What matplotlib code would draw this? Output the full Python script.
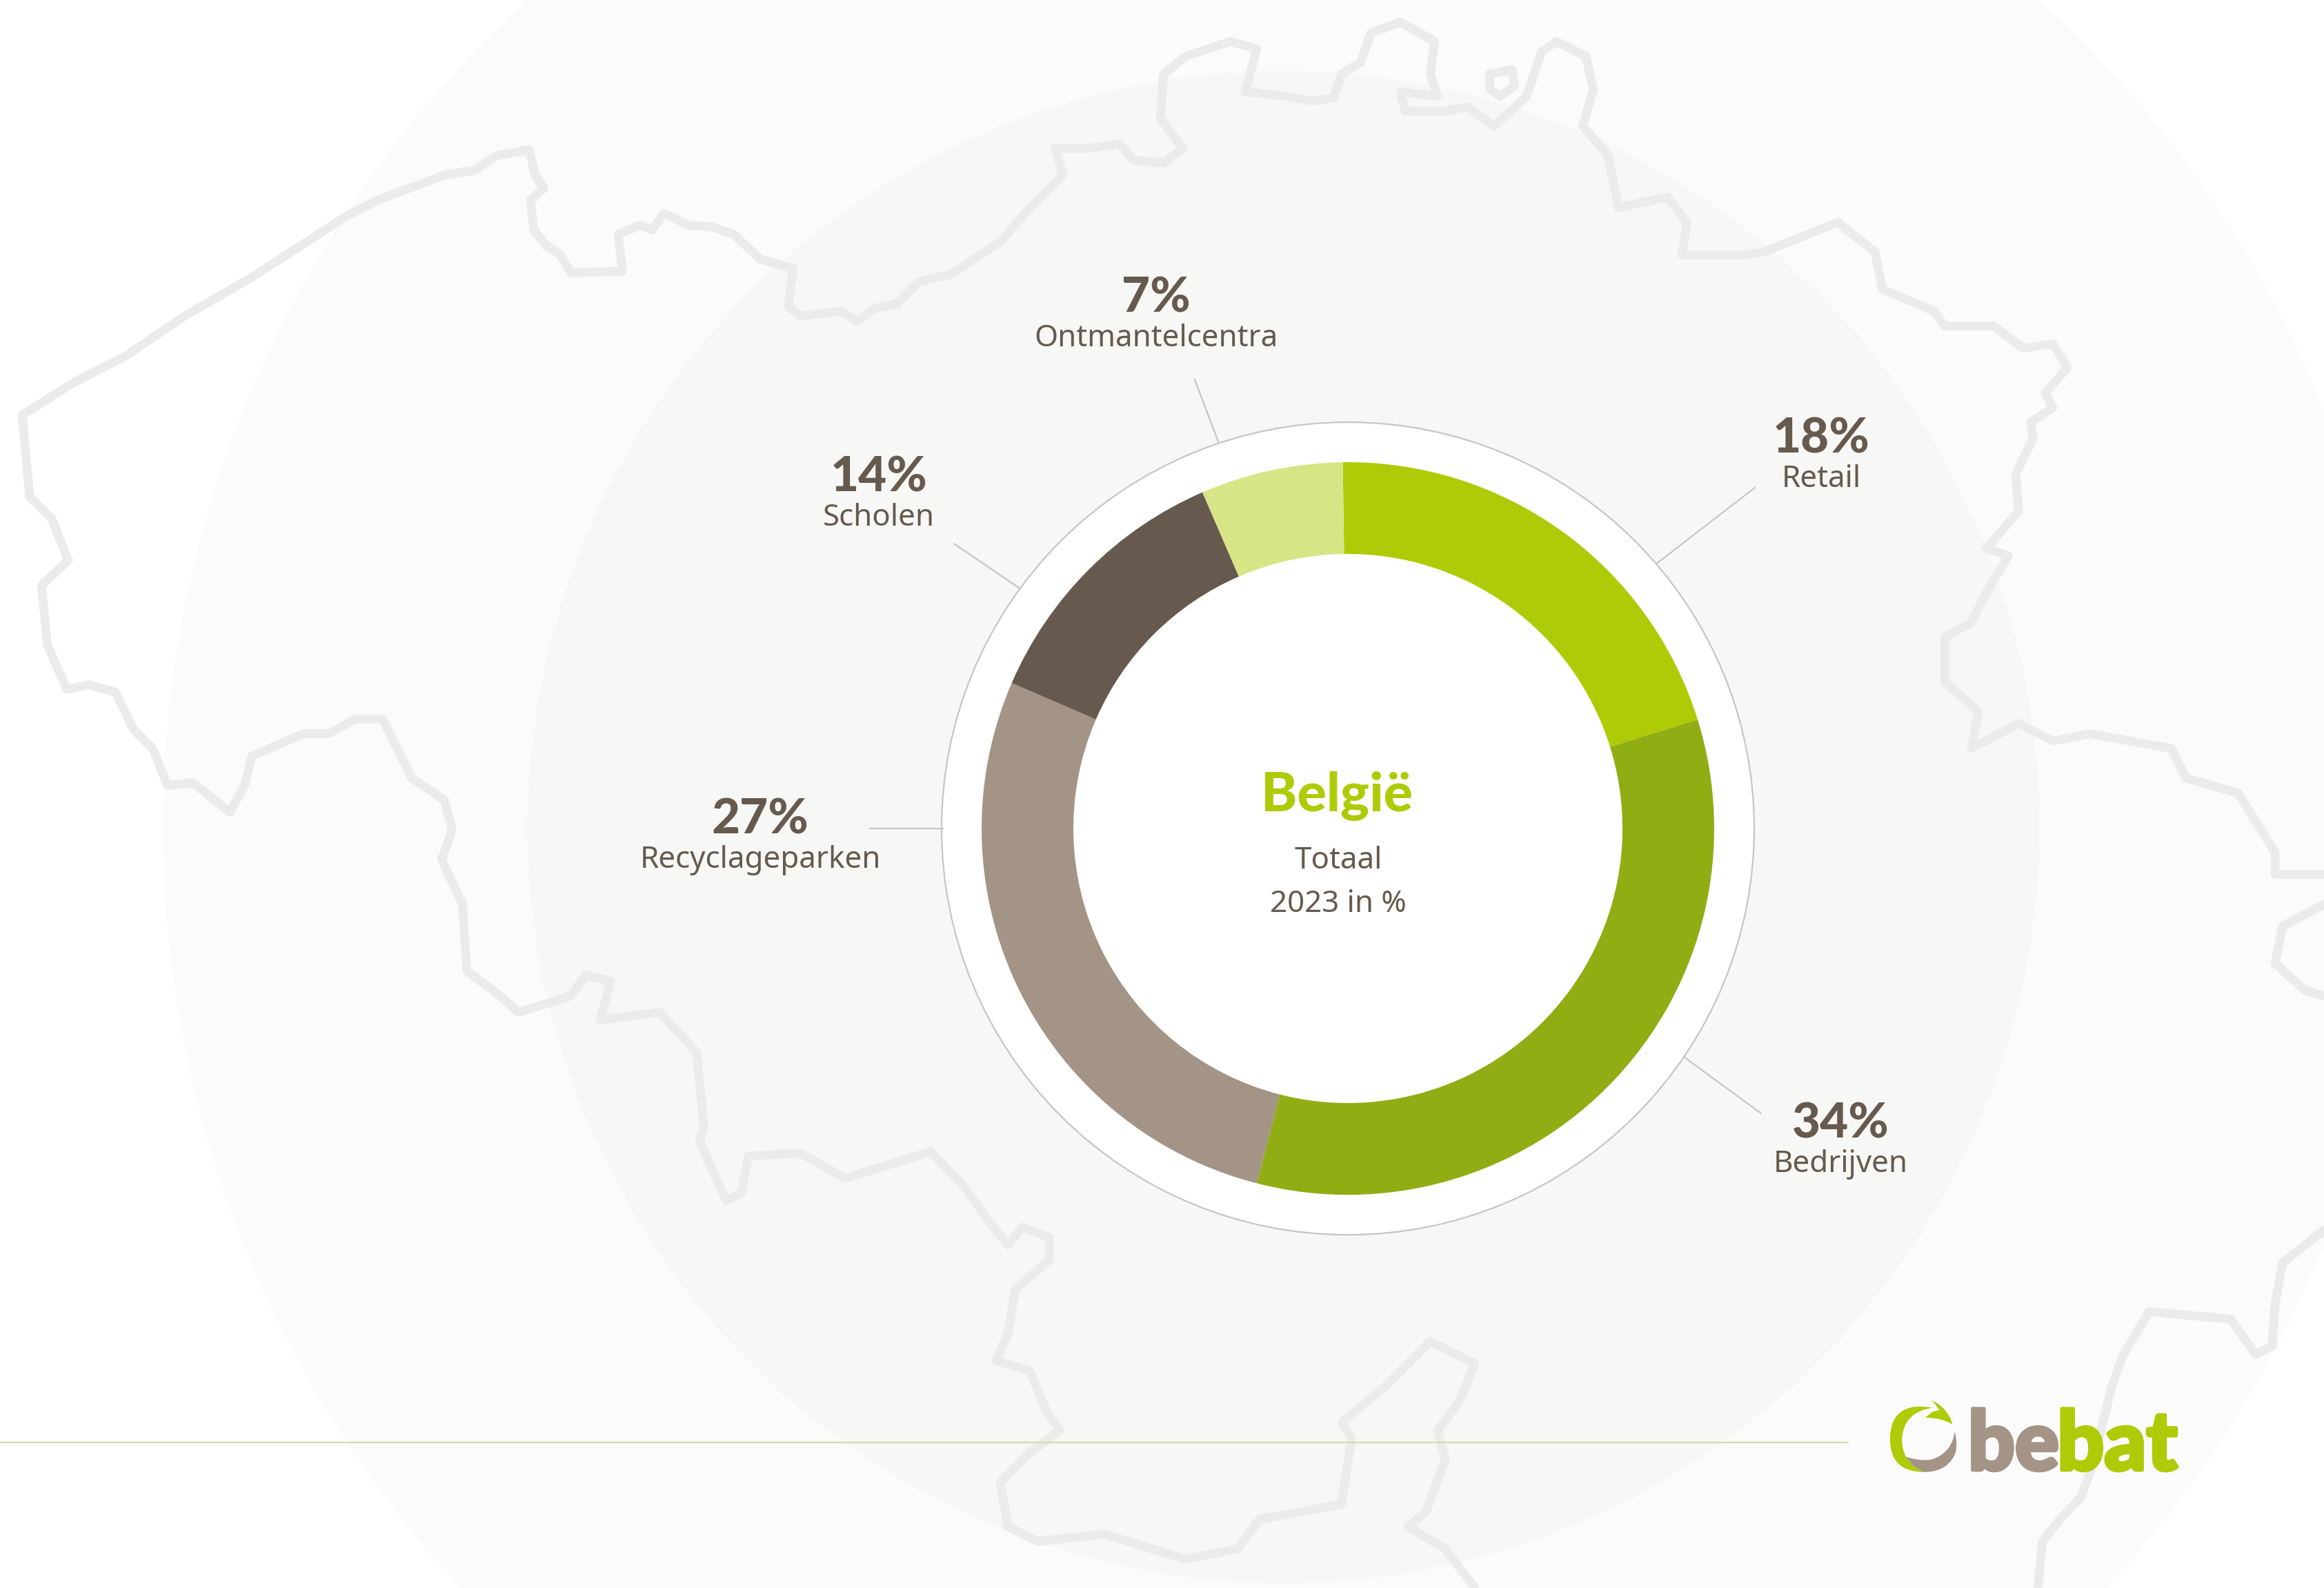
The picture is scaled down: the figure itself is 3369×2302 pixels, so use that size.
import numpy as np
from matplotlib import pyplot as plt
from matplotlib import patheffects
from matplotlib.patches import Circle, PathPatch
from matplotlib.path import Path

# image is 3369x2302, the map was traced on the 1568 wide version
W, H = 3369, 2302
S = W / 1568
DPI = 200

# slice sizes as drawn (degrees of the arc), they differ a bit from the printed labels
slice_names = ['Retail', 'Bedrijven', 'Recyclageparken', 'Scholen', 'Ontmantelcentra']
slice_sizes = [73.5, 121.7, 99.0, 43.2, 22.6]
slice_labels = ['18%', '34%', '27%', '14%', '7%']
slice_colors = ['#afcb08', '#90ad14', '#a39486', '#665a4e', '#d8e586']

title = 'België'
subtitle = ['Totaal', '2023 in %']

map_north = [(15, 280), (50, 258), (85, 240), (125, 213), (170, 187), (235, 145), (255, 135), (300, 118), (320, 115),
             (335, 105), (357, 101), (361, 118), (367, 127), (358, 135), (360, 155), (368, 165), (378, 172),
             (385, 184), (420, 183), (417, 158), (432, 152), (440, 155), (448, 144), (465, 152), (480, 153),
             (495, 158), (513, 175), (535, 181), (532, 207), (540, 213), (568, 210), (578, 217), (590, 208),
             (605, 205), (620, 190), (642, 185), (675, 163), (695, 140), (717, 118), (712, 100),
             (735, 100), (755, 97), (765, 108), (785, 110), (798, 100), (783, 80), (785, 50), (800, 38),
             (830, 28), (848, 33), (840, 62), (868, 65), (885, 68), (900, 66), (905, 50), (918, 42), (925, 22),
             (945, 15), (968, 28), (965, 50), (970, 65), (945, 62), (948, 75), (975, 75), (990, 72), (1008, 85),
             (1030, 65), (1040, 35), (1050, 28), (1070, 38), (1075, 60), (1068, 85), (1085, 105), (1092, 140),
             (1125, 133), (1138, 150), (1135, 172), (1178, 172), (1190, 170), (1215, 160), (1240, 150),
             (1265, 170), (1270, 195), (1305, 210), (1312, 220), (1345, 220), (1365, 235), (1385, 232),
             (1395, 248), (1380, 265), (1385, 275), (1370, 285), (1372, 295), (1360, 320), (1362, 345),
             (1340, 370), (1355, 375), (1340, 400), (1330, 420), (1312, 430), (1312, 460), (1335, 480),
             (1330, 505), (1362, 488), (1385, 500), (1410, 495), (1465, 505), (1475, 525), (1510, 535),
             (1535, 575), (1535, 590), (1568, 590)]
map_south = [(15, 280), (20, 335), (35, 350), (46, 378), (28, 395), (32, 435), (45, 465), (60, 462), (78, 467),
             (90, 492), (103, 505), (113, 530), (130, 528), (155, 548), (165, 530), (170, 510), (205, 495),
             (222, 495), (240, 485), (258, 485), (278, 525), (300, 540), (305, 560), (298, 580), (312, 610),
             (315, 655), (335, 670), (350, 683), (385, 672), (395, 658), (412, 662), (405, 688), (445, 683),
             (470, 710), (475, 760), (472, 770), (490, 810), (500, 805), (505, 780), (540, 778), (570, 795),
             (628, 777), (650, 800), (668, 825), (680, 840), (690, 828), (708, 835), (708, 850), (685, 870),
             (680, 900), (672, 918), (695, 925), (705, 950), (715, 965), (695, 980), (675, 1000), (680, 1030),
             (700, 1040), (745, 1035), (800, 1052), (835, 1045), (850, 1025), (905, 1015), (912, 970), (905, 960),
             (935, 935), (965, 905), (995, 920), (985, 945), (970, 965), (975, 985), (962, 1020), (950, 1030),
             (975, 1045), (995, 1071)]
map_east = [(1568, 610), (1540, 625), (1535, 650), (1555, 668), (1568, 672)]
map_se = [(1568, 830), (1540, 852), (1535, 880), (1533, 908), (1522, 914), (1505, 890), (1450, 885), (1432, 915),
          (1425, 935), (1411, 991), (1404, 1010), (1390, 1025), (1378, 1040), (1375, 1071)]
map_enclave = [(1005, 50), (1020, 47), (1022, 58), (1012, 65), (1005, 60), (1005, 50)]

# label, value position and the leader line, on the 1568 wide version
label_pos = {'Retail': (1229, 296), 'Bedrijven': (1242, 758), 'Recyclageparken': (513, 553),
             'Scholen': (593, 322), 'Ontmantelcentra': (780, 201)}
leaders = [((1184, 329), (1118, 380)), ((1188, 751), (1136, 713)), ((587, 559), (636, 559)),
           ((644, 367), (688, 397)), ((806, 256), (822, 298))]

TEXT = '#665a4e'
FONT = 'Lato'
BODY = 'Noto Sans'
CX, CY = 1954, 1201
R_OUT, R_IN, R_RING = 531, 398, 589

fig = plt.figure(figsize=(W / DPI, H / DPI), dpi=DPI, facecolor='white')
ax = fig.add_axes([0, 0, 1, 1])
ax.set_xlim(0, W)
ax.set_ylim(H, 0)
ax.axis('off')

# background discs
ax.add_patch(Circle((866 * S, 558 * S), 756 * S, fc='#fbfbfb', ec='none', zorder=1))
ax.add_patch(Circle((866 * S, 558 * S), 510 * S, fc='#f7f7f5', ec='none', zorder=2))

for part in [map_north, map_south, map_east, map_se, map_enclave]:
    xs, ys = zip(*part)
    ax.plot(np.array(xs) * S, np.array(ys) * S, color='#ecebe9', lw=4.6, solid_joinstyle='round',
            solid_capstyle='round', zorder=3)

ax.add_patch(Circle((CX, CY), R_RING, fc='white', ec='#c6c6c6', lw=0.8, zorder=4))
for a, b in leaders:
    ax.plot([a[0] * S, b[0] * S], [a[1] * S, b[1] * S], color='#c6c6c6', lw=0.8, zorder=4)

ax.plot([0, 2679], [2091, 2091], color='#d3dcae', lw=0.8, zorder=4)

# donut in its own axes so pie keeps its normal orientation
pie_ax = fig.add_axes([(CX - R_OUT) / W, 1 - (CY + R_OUT) / H, 2 * R_OUT / W, 2 * R_OUT / H])
pie_ax.patch.set_alpha(0)
pie_ax.pie(slice_sizes, colors=slice_colors, startangle=90.8, counterclock=False, radius=1,
           wedgeprops={'width': 1 - R_IN / R_OUT, 'linewidth': 0})
pie_ax.set_xlim(-1, 1)
pie_ax.set_ylim(-1, 1)
pie_ax.axis('off')

for name, value in zip(slice_names, slice_labels):
    x, y = label_pos[name]
    ax.text(x * S, y * S, value, ha='center', va='center', fontsize=25.5, fontweight='black', color=TEXT,
            family=FONT, zorder=6)
    ax.text(x * S, (y + 27.5) * S, name, ha='center', va='center', fontsize=15.8, color=TEXT, family=BODY, zorder=6)

ax.text(902 * S, 537 * S, title, ha='center', va='center', fontsize=28.5, fontweight='black', color='#afcb08',
        family=FONT, zorder=6)
ax.text(903 * S, 581 * S, subtitle[0], ha='center', va='center', fontsize=15.8, color=TEXT, family=BODY, zorder=6)
ax.text(903 * S, 610 * S, subtitle[1], ha='center', va='center', fontsize=15.8, color=TEXT, family=BODY, zorder=6)


def lx(x):
    return 2650 + x / 2.613


def ly(y):
    return 1980 + y / 3


def logo_shape(points, codes, color):
    verts = [(lx(x), ly(y)) for x, y in points]
    ax.add_patch(PathPatch(Path(verts, codes), fc=color, ec='none', zorder=6))


M, C, L = Path.MOVETO, Path.CURVE3, Path.LINETO
logo_shape([(397, 182), (235, 150), (235, 320), (235, 462), (365, 462), (320, 445), (295, 395), (280, 360), (280, 320),
            (285, 200), (397, 182)], [M, C, C, C, C, C, C, C, C, C, C], '#afcb08')
logo_shape([(480, 285), (490, 330), (485, 370), (460, 460), (365, 462), (320, 445), (295, 395), (345, 415), (390, 408),
            (470, 380), (480, 285)], [M, C, C, C, C, C, C, C, C, C, C], '#a39486')
logo_shape([(395, 150), (455, 185), (472, 255), (430, 225), (368, 225), (395, 200), (422, 192), (395, 150)],
           [M, C, C, C, C, L, L, L], '#afcb08')
for word, x0, col in [('be', 530, '#a39486'), ('bat', 868, '#afcb08')]:
    ax.text(lx(x0), 2131, word, ha='left', va='baseline', fontsize=43, fontweight='black', color=col, family=FONT,
            zorder=6, path_effects=[patheffects.withStroke(linewidth=1.8, foreground=col)])

fig.savefig('out.png', dpi=DPI)
